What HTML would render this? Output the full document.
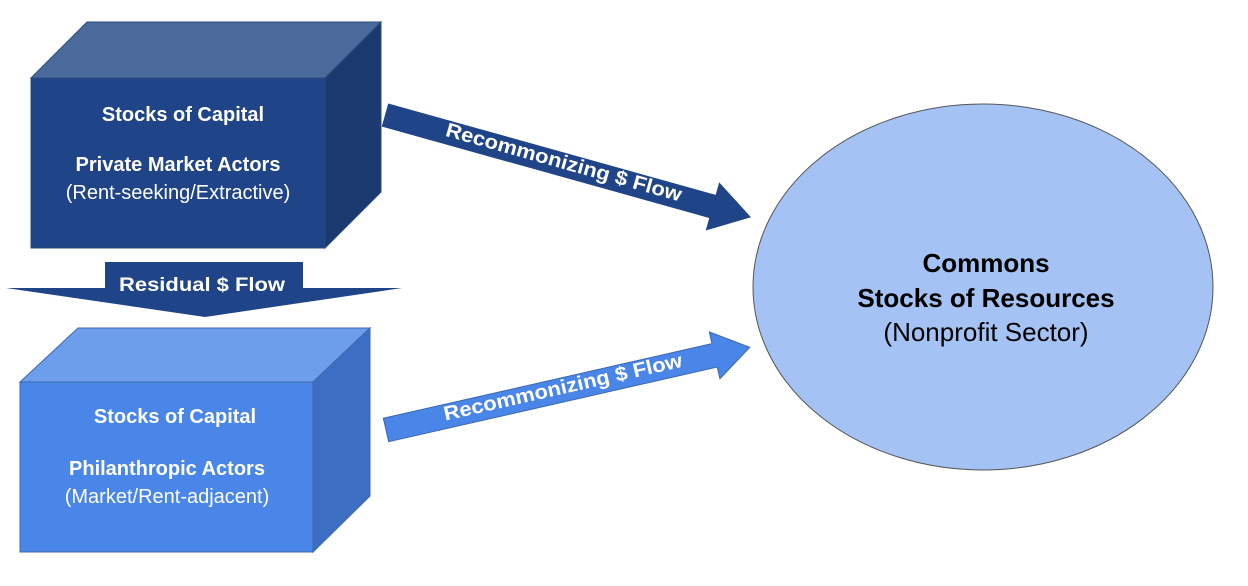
<!DOCTYPE html>
<html><head><style>html,body{margin:0;padding:0;background:#fff}svg{display:block}</style></head>
<body>
<svg width="1248" height="586" viewBox="0 0 1248 586" xmlns="http://www.w3.org/2000/svg" font-family="Liberation Sans, sans-serif">
<!-- Box 1 -->
<polygon points="31,78 87,22 381,22 325,78" fill="#4a6a9c" stroke="#2d4a7a" stroke-width="1"/>
<polygon points="325,78 381,22 381,192 325,248" fill="#1b3a6f" stroke="#2d4a7a" stroke-width="1"/>
<rect x="31" y="78" width="294" height="170" fill="#1f4487" stroke="#2d4a7a" stroke-width="1"/>
<g fill="#fff" text-anchor="middle" font-size="20">
<text x="183" y="121" font-weight="bold">Stocks of Capital</text>
<text x="178" y="171" font-weight="bold">Private Market Actors</text>
<text x="178" y="199">(Rent-seeking/Extractive)</text>
</g>
<!-- Residual arrow -->
<polygon points="105,262 303,262 303,288 402,288 205,317 6,288 105,288" fill="#1f4487"/>
<text x="202" y="291" fill="#fff" font-size="19" font-weight="bold" text-anchor="middle" textLength="166" lengthAdjust="spacingAndGlyphs">Residual $ Flow</text>
<!-- Box 2 -->
<polygon points="20,382 78,328 370,328 313,382" fill="#6d9eeb" stroke="#3d67ad" stroke-width="1"/>
<polygon points="313,382 370,328 370,496 313,552" fill="#3c6fc4" stroke="#3d67ad" stroke-width="1"/>
<rect x="20" y="382" width="293" height="170" fill="#4a86e8" stroke="#3d67ad" stroke-width="1"/>
<g fill="#fff" text-anchor="middle" font-size="20">
<text x="175" y="423" font-weight="bold">Stocks of Capital</text>
<text x="167" y="475" font-weight="bold">Philanthropic Actors</text>
<text x="167" y="503">(Market/Rent-adjacent)</text>
</g>
<!-- Top recommonizing arrow -->
<g transform="translate(385,115) rotate(15.6)">
<polygon points="0,-12 340,-12 340,-25 380,0 340,25 340,12 0,12" fill="#1f4487"/>
<text x="185" y="4" fill="#fff" font-size="20" font-weight="bold" text-anchor="middle" textLength="244" lengthAdjust="spacingAndGlyphs">Recommonizing $ Flow</text>
</g>
<!-- Bottom recommonizing arrow -->
<g transform="translate(386,430) rotate(-12.8)">
<polygon points="0,-12 337,-12 337,-24 373,0 337,24 337,12 0,12" fill="#4a86e8" stroke="#3d67ad" stroke-width="1"/>
<text x="182" y="4" fill="#fff" font-size="20" font-weight="bold" text-anchor="middle" textLength="244" lengthAdjust="spacingAndGlyphs">Recommonizing $ Flow</text>
</g>
<!-- Ellipse -->
<ellipse cx="983" cy="287" rx="230" ry="183" fill="#a4c2f4" stroke="#555" stroke-width="1"/>
<g fill="#000" text-anchor="middle" font-size="26">
<text x="986" y="272" font-weight="bold">Commons</text>
<text x="986" y="307" font-weight="bold">Stocks of Resources</text>
<text x="986" y="341">(Nonprofit Sector)</text>
</g>
</svg>
</body></html>
